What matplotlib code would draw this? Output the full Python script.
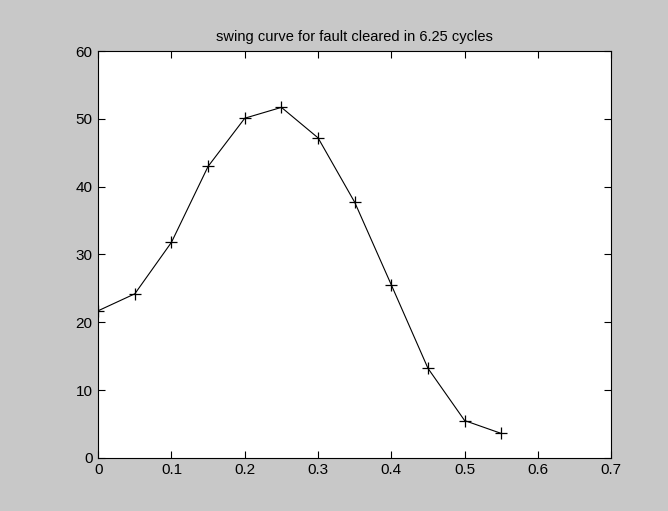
import matplotlib
matplotlib.use('Agg')
import matplotlib.pyplot as plt
import numpy as np

# swing curve data
t = [0, 0.05, 0.1, 0.15, 0.2, 0.25, 0.3, 0.35, 0.4, 0.45, 0.5, 0.55]
delta = [21.7, 24.2, 31.8, 43.0, 50.1, 51.7, 47.2, 37.7, 25.5, 13.2, 5.5, 3.6]

plt.rcParams['font.family'] = ['Liberation Sans', 'DejaVu Sans']

fig = plt.figure(figsize=(6.68, 5.11), dpi=100, facecolor='#c8c8c8')
ax = fig.add_axes([0.147, 0.104, 0.768, 0.796])

ax.plot(t, delta, '-+', color='black', linewidth=0.8, markersize=9, markeredgewidth=0.9)

ax.set_xlim(0, 0.7)
ax.set_ylim(0, 60)
ax.set_xticks(np.arange(0, 0.71, 0.1))
ax.set_xticklabels(['0', '0.1', '0.2', '0.3', '0.4', '0.5', '0.6', '0.7'])
ax.set_yticks(np.arange(0, 61, 10))
ax.tick_params(direction='in', top=True, right=True, length=5, labelsize=11, width=0.8, pad=4)
for s in ax.spines.values():
    s.set_linewidth(0.8)

ax.set_title('swing curve for fault cleared in 6.25 cycles', fontsize=10.5, pad=7)

fig.savefig('out.png', dpi=100, facecolor=fig.get_facecolor())
